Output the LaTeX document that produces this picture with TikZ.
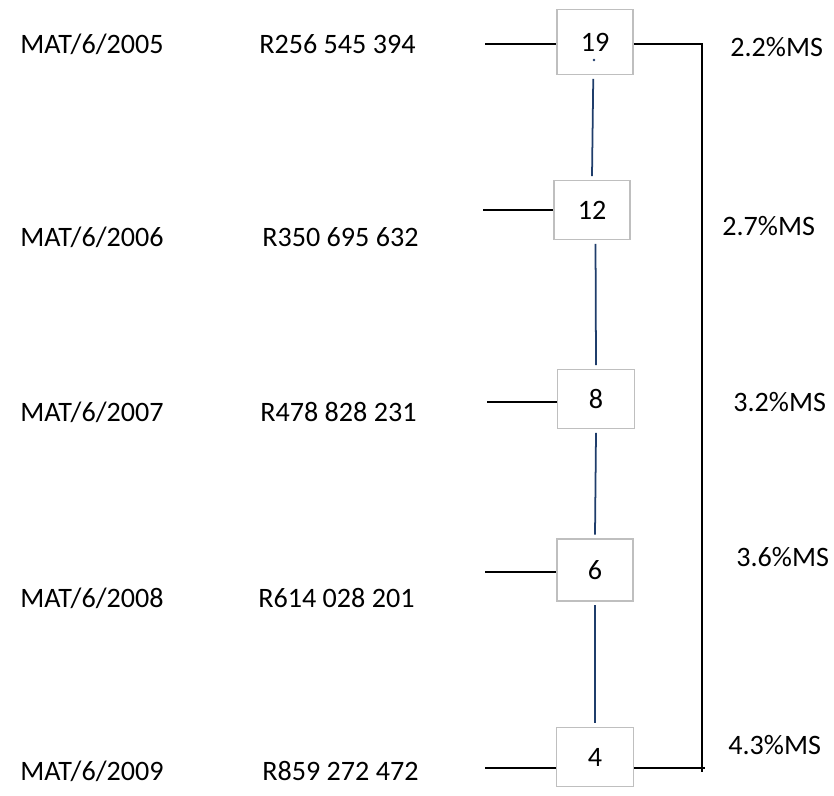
\documentclass[tikz,border=0pt]{standalone}
\usepackage{fontspec}
\setmainfont{Carlito}
\definecolor{boxgray}{HTML}{BFBFBF}
\definecolor{linkblue}{HTML}{1F3D6B}
\tikzset{
  yearbox/.style={draw=boxgray,line width=1.1pt,minimum width=1.52cm,minimum height=1.18cm,inner sep=0pt,font=\fontsize{16}{19}\selectfont},
  rowtext/.style={anchor=west,inner sep=0pt,font=\fontsize{16}{19}\selectfont},
  link/.style={linkblue,line width=1pt},
  wire/.style={black,line width=0.8pt}
}
\begin{document}
\begin{tikzpicture}[x=0.02cm,y=-0.02cm]
        \useasboundingbox (0,0) rectangle (834,795);
        % boxes
        \node[yearbox,minimum height=1.3cm] (b19) at (595,42) {19};
        \node[yearbox] (b12) at (592,210) {12};
        \node[yearbox,minimum width=1.54cm] (b8) at (596,399) {8};
        \node[yearbox,minimum height=1.24cm] (b6) at (595,570) {6};
        \node[yearbox,minimum width=1.54cm] (b4) at (595,757) {4};
        \fill[linkblue] (594,60) circle (0.8pt);
        % vertical links
        \draw[link] ([xshift=-1pt,yshift=-2pt]b19.south) -- ([yshift=2pt]b12.north);
        \draw[link] ([xshift=2pt,yshift=-2pt]b12.south) -- ([yshift=2pt]b8.north);
        \draw[link] ([yshift=-2pt]b8.south) -- ([yshift=2pt]b6.north);
        \draw[link] ([yshift=-2pt]b6.south) -- ([yshift=2pt]b4.north);
        % left stubs
        \coordinate (s19) at (485,44);
        \coordinate (s12) at (483,210);
        \coordinate (s8) at (487,402);
        \coordinate (s6) at (485,572);
        \coordinate (s4) at (485,768);
        \draw[wire] (s19) -- (s19 -| b19.west);
        \draw[wire] (s12) -- (s12 -| b12.west);
        \draw[wire] (s8) -- (s8 -| b8.west);
        \draw[wire] (s6) -- (s6 -| b6.west);
        \draw[wire] (s4) -- (s4 -| b4.west);
        % right bracket
        \coordinate (rt) at (702,44);
        \coordinate (rb) at (702,768);
        \coordinate (re) at (705,768);
        \draw[wire] (rt -| b19.east) -- (rt) -- ([yshift=-2pt]rb);
        \draw[wire] (re -| b4.east) -- (re);
        % file numbers and amounts
        \node[rowtext] (m5) at (20,44) {MAT/6/2005};
        \node[rowtext] (a5) at (259,44) {R256 545 394};
        \node[rowtext] (m6) at (20,237) {MAT/6/2006};
        \node[rowtext] (a6) at (262,237) {R350 695 632};
        \node[rowtext] (m7) at (20,412) {MAT/6/2007};
        \node[rowtext] (a7) at (260,412) {R478 828 231};
        \node[rowtext] (m8) at (20,598) {MAT/6/2008};
        \node[rowtext] (a8) at (258,598) {R614 028 201};
        \node[rowtext] (m9) at (20,771) {MAT/6/2009};
        \node[rowtext] (a9) at (262,771) {R859 272 472};
        % percentages
        \node[rowtext] (p1) at (730,47) {2.2\%MS};
        \node[rowtext] (p2) at (722,226) {2.7\%MS};
        \node[rowtext] (p3) at (733,402) {3.2\%MS};
        \node[rowtext] (p4) at (736,557) {3.6\%MS};
        \node[rowtext] (p5) at (728,745) {4.3\%MS};
\end{tikzpicture}
\end{document}
